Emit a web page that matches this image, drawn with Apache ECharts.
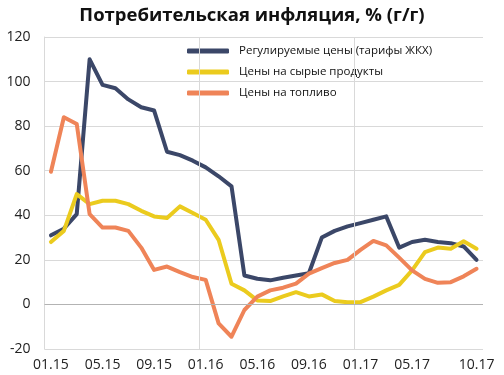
<!DOCTYPE html>
<html>
<head>
<meta charset="utf-8">
<script src="https://cdn.jsdelivr.net/npm/echarts@6/dist/echarts.min.js"></script>
<style>html,body{margin:0;padding:0;background:#fff}#c{width:504px;height:375px}</style>
</head>
<body>
<div id="c"></div>
<script>
const months = ["01.15","02.15","03.15","04.15","05.15","06.15","07.15","08.15","09.15","10.15","11.15","12.15",
  "01.16","02.16","03.16","04.16","05.16","06.16","07.16","08.16","09.16","10.16","11.16","12.16",
  "01.17","02.17","03.17","04.17","05.17","06.17","07.17","08.17","09.17","10.17"];
const shownLabels = ["01.15","05.15","09.15","01.16","05.16","09.16","01.17","05.17","10.17"];
const yearStarts = ["01.16","01.17"];
const seriesNames = ["Регулируемые цены (тарифы ЖКХ)","Цены на сырые продукты","Цены на топливо"];
const regulated = [31,34,40.5,110,98.5,97,92,88.5,87,68.5,67,64.5,61.5,57.5,53,13,11.5,10.8,12,13,14,30,33,35,36.5,38,39.5,25.5,28,29,28,27.5,26,20];
const food = [28,33,49.5,45,46.5,46.5,45,42,39.5,38.8,44,41,38,29,9.3,6.3,1.8,1.5,3.6,5.5,3.6,4.5,1.5,1,1,3.5,6.3,8.8,15.3,23.5,25.5,25,28.3,25];
const fuel = [59.5,84,81,40.5,34.5,34.5,33,25.5,15.5,17,14.5,12.3,11,-8.5,-14.5,-2.5,3.5,6.3,7.5,9.3,13.8,16.3,18.6,20,24.5,28.5,26.5,21,15.3,11.5,9.7,10,12.6,16];
const colors = ["#3b4768","#ebcb1e","#ef8458"];

const font = "'Open Sans', sans-serif";
const chart = echarts.init(document.getElementById('c'), null, {renderer:'canvas'});
const mk = (name, data, color) => ({
  name, type:'line', data, symbol:'none', smooth:false, z:3,
  lineStyle:{width:4, color, join:'round', cap:'round'}, itemStyle:{color}
});
const boundaryIdx = yearStarts.map(m => months.indexOf(m));
chart.setOption({
  animation:false,
  title:{text:'Потребительская инфляция, % (г/г)', left:'center', top:1,
    textStyle:{fontFamily:font, fontSize:18.5, fontWeight:'bold', color:'#111'}},
  grid:{left:44.5, right:21, top:37, bottom:26},
  legend:{orient:'vertical', left:182, top:40, itemWidth:42, itemHeight:5, itemGap:9,
    icon:'roundRect', data:seriesNames,
    textStyle:{fontFamily:font, fontSize:11.5, color:'#111', padding:[0,0,0,5]}},
  xAxis:[{type:'category', data:months, boundaryGap:true,
    axisLine:{show:false, onZero:false}, axisTick:{show:false},
    axisLabel:{fontFamily:font, fontSize:14, color:'#222', margin:9,
      interval:(i,v)=>shownLabels.includes(v)},
    splitLine:{show:false}},
   {type:'value', min:0, max:months.length, show:false, splitLine:{show:false}}],
  yAxis:{type:'value', min:-20, max:120, interval:20,
    axisLine:{show:true, lineStyle:{color:'#d9d9d9'}}, axisTick:{show:false},
    axisLabel:{fontFamily:font, fontSize:14, color:'#222', margin:14},
    splitLine:{lineStyle:{color:'#d9d9d9', width:1}}},
  series:[
    {type:'line', xAxisIndex:1, data:[], silent:true, z:1,
     markLine:{silent:true, symbol:'none', label:{show:false},
       lineStyle:{color:'#d9d9d9', width:1, type:'solid'},
       data:boundaryIdx.map(i=>({xAxis:i})).concat([{yAxis:0, lineStyle:{color:'#b3b3b3', width:1, type:'solid'}}])}},
    mk(seriesNames[0],regulated,colors[0]), mk(seriesNames[1],food,colors[1]), mk(seriesNames[2],fuel,colors[2])]
});
</script>
</body>
</html>
